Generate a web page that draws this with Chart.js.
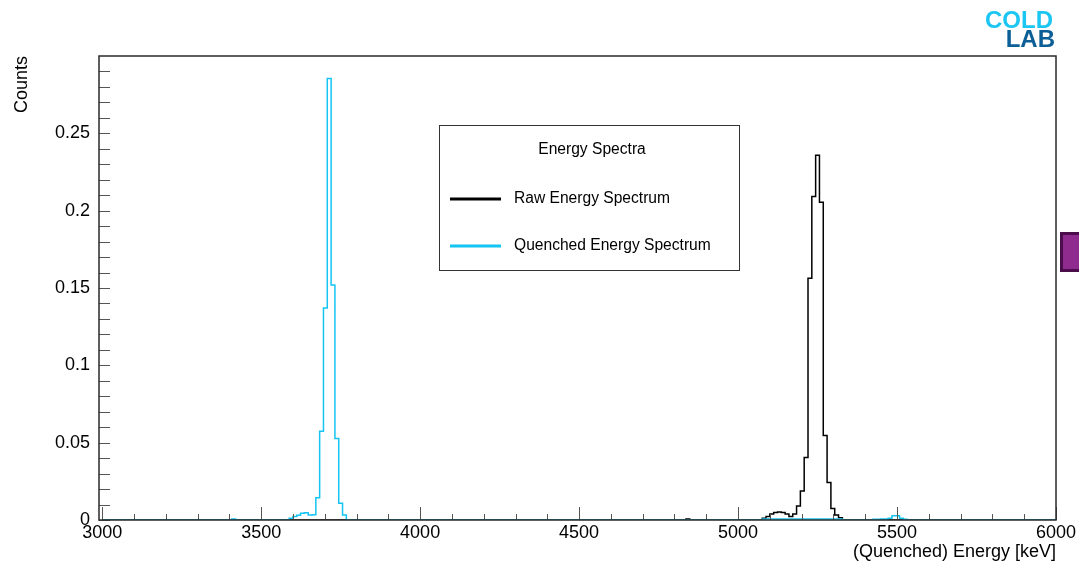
<!DOCTYPE html>
<html>
<head>
<meta charset="utf-8">
<title>Energy Spectra</title>
<script src="https://cdn.jsdelivr.net/npm/chart.js@4/dist/chart.umd.min.js"></script>
<style>
  html, body { margin: 0; padding: 0; background: #ffffff; }
  #wrap { width: 1079px; height: 563px; }
</style>
</head>
<body>
<div id="wrap"><canvas id="Chart" width="1079" height="563"></canvas></div>
<script>
// histogram binning (keV)
const histStart = 3000;
const histEnd = 6000;
const binWidth = 12;

// raw spectrum: left edge of each filled bin and its content
const rawBinStarts = [4836, 5076, 5088, 5100, 5112, 5124, 5136, 5148, 5160, 5172, 5184,
  5196, 5208, 5220, 5232, 5244, 5256, 5268, 5280, 5292, 5304, 5316];
const rawCounts = [0.0007, 0.0011, 0.0022, 0.0039, 0.0049, 0.0052, 0.0049, 0.0039, 0.0022, 0.0039, 0.009,
  0.0187, 0.0404, 0.1563, 0.2092, 0.2359, 0.2054, 0.0546, 0.0243, 0.0075, 0.0032, 0.0015];

// quenched spectrum
const quenchedBinStarts = [3408, 3588, 3600, 3612, 3624, 3636, 3648, 3660, 3672, 3684, 3696,
  3708, 3720, 3732, 3744, 3756,
  5076, 5088, 5100, 5112, 5124, 5136, 5148, 5160, 5172, 5184, 5196, 5208, 5220, 5232, 5244,
  5256, 5268, 5280, 5292, 5304, 5316,
  5424, 5436, 5448, 5460, 5472, 5484, 5496, 5508, 5520];
const quenchedCounts = [0.0007, 0.0011, 0.0022, 0.003, 0.0043, 0.0047, 0.0032, 0.0034, 0.0144, 0.0574, 0.137,
  0.2854, 0.152, 0.0527, 0.0108, 0.0032,
  0.0006, 0.0006, 0.0006, 0.0006, 0.0006, 0.0006, 0.0006, 0.0006, 0.0006, 0.0006, 0.0006, 0.0006, 0.0006, 0.0006, 0.0006,
  0.0006, 0.0006, 0.0006, 0.0006, 0.0006, 0.0006,
  0.0005, 0.0005, 0.0006, 0.0006, 0.0011, 0.0028, 0.0028, 0.0011, 0.0005];

// axis tick labels
const xTickLabels = [3000, 3500, 4000, 4500, 5000, 5500, 6000];
const yTickLabels = [0, 0.05, 0.1, 0.15, 0.2, 0.25];

const legendTitle = 'Energy Spectra';
const seriesLabels = ['Raw Energy Spectrum', 'Quenched Energy Spectrum'];
const seriesColors = ['#000000', '#15c4f2'];

const fontFamily = '"Liberation Sans", Arial, Helvetica, sans-serif';

// fill every bin, empty ones with 0, plus the closing edge
function buildHistogram(starts, counts) {
  let pts = [];
  for (let e = histStart; e < histEnd; e += binWidth) {
    let i = starts.indexOf(e);
    pts.push({ x: e, y: i >= 0 ? counts[i] : 0 });
  }
  pts.push({ x: histEnd, y: 0 });
  return pts;
}

// frame, inward ticks, legend box and logo
const framePlugin = {
  id: 'frame',
  afterDatasetsDraw(chart) {
    const ctx = chart.ctx;
    const a = chart.chartArea;
    const xs = chart.scales.x;
    const ys = chart.scales.y;
    ctx.save();

    // ticks
    ctx.strokeStyle = '#555555';
    ctx.lineWidth = 1;
    ctx.beginPath();
    for (let v = histStart; v <= histEnd; v += 100) {
      let px = Math.round(xs.getPixelForValue(v)) + 0.5;
      let len = (v % 500 === 0) ? 13 : 6;
      ctx.moveTo(px, a.bottom);
      ctx.lineTo(px, a.bottom - len);
    }
    for (let k = 0; k <= 29; k++) {
      let py = Math.round(ys.getPixelForValue(k / 100)) + 0.5;
      ctx.moveTo(a.left, py);
      ctx.lineTo(a.left + 11, py);
    }
    ctx.stroke();

    // frame
    ctx.strokeStyle = '#2a2a2a';
    ctx.lineWidth = 1.5;
    ctx.strokeRect(a.left, a.top, a.right - a.left, a.bottom - a.top);

    // legend
    ctx.strokeStyle = '#333333';
    ctx.lineWidth = 1;
    ctx.fillStyle = '#ffffff';
    ctx.fillRect(439.5, 125.5, 300, 145);
    ctx.strokeRect(439.5, 125.5, 300, 145);
    ctx.fillStyle = '#000000';
    ctx.font = '15.6px ' + fontFamily;
    ctx.textBaseline = 'middle';
    ctx.textAlign = 'center';
    ctx.fillText(legendTitle, 592, 150);
    ctx.textAlign = 'left';
    chart.data.datasets.forEach((ds, i) => {
      let ly = 199 + i * 47;
      ctx.strokeStyle = ds.borderColor;
      ctx.lineWidth = 3;
      ctx.beginPath();
      ctx.moveTo(450, ly);
      ctx.lineTo(501, ly);
      ctx.stroke();
      ctx.fillStyle = '#000000';
      ctx.fillText(ds.label, 514, ly);
    });

    // logo
    ctx.font = 'bold 24px ' + fontFamily;
    ctx.textAlign = 'right';
    ctx.textBaseline = 'alphabetic';
    ctx.fillStyle = '#1cc6f2';
    ctx.fillText('COLD', 1053, 28);
    ctx.fillStyle = '#0b5f96';
    ctx.fillText('LAB', 1055, 46.5);

    // palette box on the right edge
    ctx.fillStyle = '#8f2a8f';
    ctx.fillRect(1060, 232, 30, 40);
    ctx.strokeStyle = '#4a0f4a';
    ctx.lineWidth = 3;
    ctx.strokeRect(1061.5, 233.5, 30, 37);

    ctx.restore();
  }
};

let lineCtx = document.getElementById('Chart');

let lineConfig = {
  type: 'line',
  data: {
    datasets: [{
      label: seriesLabels[0],
      data: buildHistogram(rawBinStarts, rawCounts),
      borderColor: seriesColors[0],
      borderWidth: 1.5,
      stepped: true,
      pointRadius: 0,
      fill: false,
      order: 2,
    }, {
      label: seriesLabels[1],
      data: buildHistogram(quenchedBinStarts, quenchedCounts),
      borderColor: seriesColors[1],
      borderWidth: 1.5,
      stepped: true,
      pointRadius: 0,
      fill: false,
      order: 1,
    }],
  },
  options: {
    responsive: false,
    animation: false,
    devicePixelRatio: 1,
    layout: { padding: { left: 0, right: 23, top: 56, bottom: 0 } },
    plugins: {
      legend: { display: false },
      tooltip: { enabled: false },
    },
    scales: {
      x: {
        type: 'linear',
        min: 2990,
        max: histEnd,
        afterBuildTicks: s => { s.ticks = xTickLabels.map(v => ({ value: v })); },
        afterFit: s => { s.height = 43; },
        grid: { display: false, drawTicks: false },
        border: { display: false },
        ticks: {
          padding: 2,
          maxRotation: 0,
          autoSkip: false,
          color: '#000000',
          font: { family: fontFamily, size: 18 },
          callback: v => String(v),
        },
        title: {
          display: true,
          text: '(Quenched) Energy [keV]',
          align: 'end',
          color: '#000000',
          padding: { top: 0, bottom: 0 },
          font: { family: fontFamily, size: 18 },
        },
      },
      y: {
        min: 0,
        max: 0.3,
        afterBuildTicks: s => { s.ticks = yTickLabels.map(v => ({ value: v })); },
        afterFit: s => { s.width = 99; },
        grid: { display: false, drawTicks: false },
        border: { display: false },
        ticks: {
          padding: 9,
          autoSkip: false,
          color: '#000000',
          font: { family: fontFamily, size: 18 },
          callback: v => String(v),
        },
        title: {
          display: true,
          text: 'Counts',
          align: 'end',
          color: '#000000',
          padding: { top: 11, bottom: 0 },
          font: { family: fontFamily, size: 18 },
        },
      },
    },
  },
  plugins: [framePlugin],
};

let lineChart = new Chart(lineCtx, lineConfig);
</script>
</body>
</html>
